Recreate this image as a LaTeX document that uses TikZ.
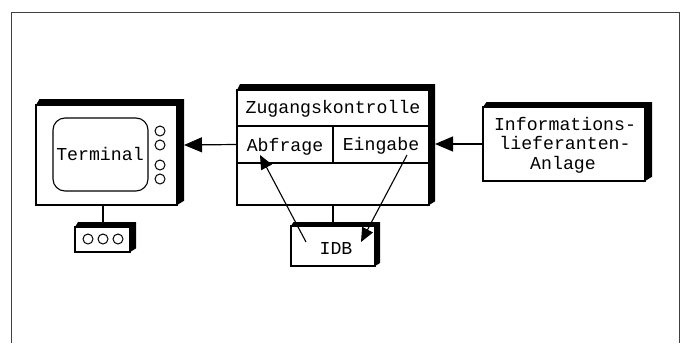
\documentclass[tikz,border=0pt]{standalone}
\usepackage{fontspec}
\setmonofont{Liberation Mono}
\usetikzlibrary{arrows.meta,calc}

\tikzset{
    kasten/.style={draw=black, line width=1.1pt, fill=white, inner sep=0pt, outer sep=0pt},
    zelle/.style={draw=black, line width=1.1pt, inner sep=0pt, outer sep=0pt},
    knopf/.style={circle, draw=black, line width=1pt, fill=white, minimum size=10pt, inner sep=0pt, outer sep=0pt},
    beschriftung/.style={inner sep=0pt, font=\ttfamily\fontsize{18.2}{19.5}\selectfont, align=center},
    pfeil/.style={draw=black, line width=1.2pt, -{Triangle[length=18pt,width=15pt]}},
    duennpfeil/.style={draw=black, line width=1.1pt, -{Triangle[length=14pt,width=12pt]}},
    linie/.style={draw=black, line width=1.1pt}
}

% dicker Schatten oben und rechts
\newcommand{\schatten}[3]{
    \fill[black] (#1.north west) -- ($(#1.north west)+(#2*0.5,-#3)$) -- ($(#1.north east)+(#2,-#3)$)
        -- ($(#1.south east)+(#2,-#2*0.6)$) -- (#1.south east) -- (#1.north east) -- cycle;
}

\begin{document}
\begin{tikzpicture}[x=1pt,y=-1pt]
    \useasboundingbox (0,0) rectangle (680,343);

    \draw[black!75, line width=1pt] (11,343) -- (11,12) -- (679,12) -- (679,343);

    % Terminal
    \node[kasten, minimum width=141pt, minimum height=100pt] (term) at (106.5,155) {};
    \schatten{term}{7}{6}
    \node[kasten, rounded corners=12pt, minimum width=95pt, minimum height=73pt] (schirm) at (100.5,154.5) {};
    \node[beschriftung, anchor=base] (termtext) at (100,160) {Terminal};
    \node[knopf] (k1) at (160,131) {};
    \node[knopf] (k2) at (160,145) {};
    \node[knopf] (k3) at (160,165) {};
    \node[knopf] (k4) at (160,179) {};

    % Tastatur
    \node[kasten, minimum width=55pt, minimum height=25pt] (tast) at (102.5,239.5) {};
    \schatten{tast}{6}{5}
    \node[knopf] (t1) at (88,239) {};
    \node[knopf] (t2) at (103,239) {};
    \node[knopf] (t3) at (118,239) {};
    \draw[linie] (term.south -| t2) -- ($(tast.north -| t2)+(0,-5)$);

    % Zugang
    \node[kasten, minimum width=192pt, minimum height=115pt] (zugang) at (333,147.5) {};
    \schatten{zugang}{6}{6}
    \node[zelle, minimum width=96pt, minimum height=37pt] (abf) at (285,144.5) {};
    \node[zelle, minimum width=96pt, minimum height=37pt] (ein) at (381,144.5) {};
    \node[beschriftung, anchor=base] (zugtext) at (333,113) {Zugangskontrolle};
    \node[beschriftung, anchor=base] (abftext) at (285,151) {Abfrage};
    \node[beschriftung, anchor=base] (eintext) at (381,150) {Eingabe};

    % Anlage
    \node[kasten, minimum width=162pt, minimum height=74pt] (anlage) at (564,144) {};
    \schatten{anlage}{7}{5}
    \node[beschriftung, anchor=base] (anltext1) at (565,130) {Informations-};
    \node[beschriftung, anchor=base] (anltext2) at (565,149.5) {lieferanten-};
    \node[beschriftung, anchor=base] (anltext3) at (563,169) {Anlage};

    % IDB
    \node[kasten, minimum width=84pt, minimum height=40pt] (idb) at (333,246) {};
    \schatten{idb}{5}{4}
    \node[beschriftung, anchor=base] (idbtext) at (336,254) {IDB};
    \draw[linie] (zugang.south -| idb.north) -- ($(idb.north)+(0,-4)$);

    \coordinate (termrand) at (184,145);
    \coordinate (zugrand) at (435,144);
    \coordinate (abfstart) at (306,242);
    \coordinate (abfziel) at (260,155);
    \coordinate (einstart) at (407,155);
    \coordinate (einziel) at (361,242);

    \draw[pfeil] (abf.west) -- (termrand);
    \draw[pfeil] (anlage.west) -- (zugrand);
    \draw[duennpfeil] (abfstart) -- (abfziel);
    \draw[duennpfeil] (einstart) -- (einziel);
\end{tikzpicture}
\end{document}
